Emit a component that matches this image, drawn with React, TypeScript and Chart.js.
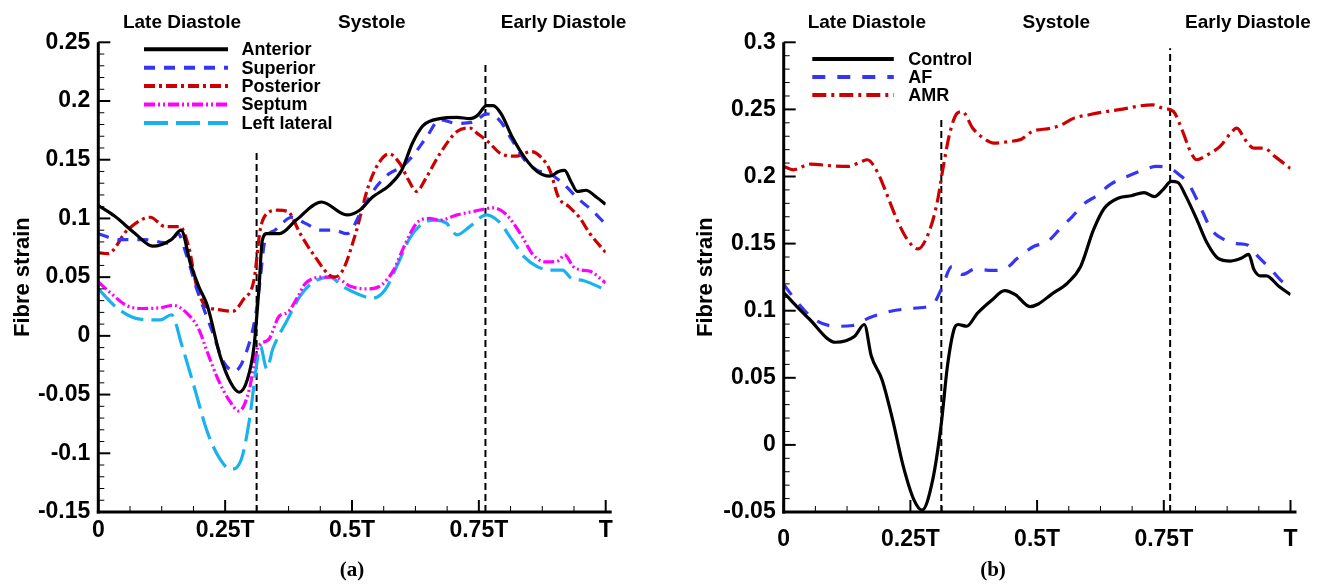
import React, { useEffect, useRef } from "react";
import { Chart, registerables } from "chart.js";

Chart.register(...registerables);

type Pt = [number, number];

// ---------- shared labels ----------
const xTickLabels = ["0", "0.25T", "0.5T", "0.75T", "T"];
const phaseLabels = ["Late Diastole", "Systole", "Early Diastole"];
const yTitle = "Fibre strain";

// ---------- panel (a): regional fibre strain (t / T, strain) ----------
const anterior: Pt[] = [
  [0, 0.111], [0.032, 0.102], [0.073, 0.087], [0.107, 0.0764], [0.144, 0.082], [0.163, 0.09],
  [0.182, 0.061], [0.198, 0.042], [0.215, 0.0256], [0.24, -0.017], [0.261, -0.04], [0.2775, -0.048],
  [0.294, -0.037], [0.307, -0.0085], [0.317, 0.043], [0.323, 0.081], [0.332, 0.087], [0.357, 0.087],
  [0.39, 0.0986], [0.44, 0.114], [0.49, 0.103], [0.515, 0.107], [0.54, 0.118], [0.573, 0.128],
  [0.598, 0.141], [0.619, 0.164], [0.64, 0.179], [0.673, 0.185], [0.707, 0.186], [0.732, 0.185],
  [0.748, 0.188], [0.765, 0.196], [0.778, 0.196], [0.794, 0.189], [0.815, 0.17], [0.84, 0.152],
  [0.865, 0.14], [0.89, 0.136], [0.907, 0.14], [0.919, 0.141], [0.932, 0.131], [0.944, 0.123],
  [0.961, 0.124], [0.982, 0.118], [1.0, 0.112],
];
const superior: Pt[] = [
  [0, 0.087], [0.04, 0.082], [0.09, 0.082], [0.14, 0.079], [0.157, 0.087], [0.173, 0.07],
  [0.194, 0.04], [0.223, 0.0057], [0.248, -0.023], [0.269, -0.03], [0.294, -0.011], [0.311, 0.02],
  [0.319, 0.048], [0.3275, 0.079], [0.348, 0.09], [0.382, 0.101], [0.407, 0.096], [0.44, 0.09],
  [0.465, 0.09], [0.49, 0.087], [0.523, 0.11], [0.548, 0.127], [0.573, 0.138], [0.598, 0.144],
  [0.623, 0.155], [0.648, 0.17], [0.673, 0.184], [0.707, 0.181], [0.74, 0.182], [0.765, 0.189],
  [0.79, 0.184], [0.815, 0.167], [0.84, 0.15], [0.865, 0.141], [0.89, 0.138], [0.915, 0.13],
  [0.948, 0.116], [0.973, 0.107], [1.0, 0.095],
];
const posterior: Pt[] = [
  [0, 0.071], [0.019, 0.07], [0.057, 0.09], [0.1025, 0.101], [0.132, 0.093], [0.161, 0.093],
  [0.178, 0.076], [0.194, 0.042], [0.211, 0.0256], [0.232, 0.0227], [0.265, 0.021], [0.286, 0.031],
  [0.307, 0.048], [0.319, 0.09], [0.332, 0.104], [0.3525, 0.107], [0.373, 0.106], [0.398, 0.087],
  [0.423, 0.07], [0.465, 0.05], [0.482, 0.056], [0.507, 0.087], [0.532, 0.127], [0.5525, 0.147],
  [0.573, 0.155], [0.594, 0.147], [0.611, 0.133], [0.6275, 0.123], [0.644, 0.133], [0.673, 0.155],
  [0.707, 0.174], [0.732, 0.177], [0.748, 0.172], [0.769, 0.165], [0.794, 0.155], [0.823, 0.153],
  [0.853, 0.157], [0.873, 0.152], [0.89, 0.141], [0.907, 0.118], [0.9275, 0.11], [0.948, 0.101],
  [0.969, 0.087], [1.0, 0.071],
];
const septum: Pt[] = [
  [0, 0.046], [0.023, 0.037], [0.057, 0.0256], [0.09, 0.0233], [0.123, 0.024], [0.148, 0.026],
  [0.173, 0.02], [0.198, 0.0057], [0.215, -0.014], [0.236, -0.037], [0.2567, -0.054], [0.2775, -0.064],
  [0.298, -0.045], [0.311, -0.014], [0.319, -0.007], [0.336, -0.003], [0.357, 0.017], [0.373, 0.02],
  [0.394, 0.034], [0.407, 0.044], [0.44, 0.05], [0.465, 0.05], [0.498, 0.042], [0.532, 0.04],
  [0.557, 0.043], [0.582, 0.056], [0.6025, 0.076], [0.6275, 0.096], [0.6525, 0.1], [0.673, 0.0985],
  [0.707, 0.103], [0.74, 0.106], [0.778, 0.109], [0.8025, 0.104], [0.832, 0.087], [0.857, 0.069],
  [0.882, 0.063], [0.907, 0.064], [0.919, 0.069], [0.936, 0.059], [0.9525, 0.056], [0.969, 0.055],
  [1.0, 0.045],
];
const leftLateral: Pt[] = [
  [0, 0.04], [0.04, 0.0227], [0.082, 0.0142], [0.123, 0.0136], [0.144, 0.018], [0.165, -0.0085],
  [0.19, -0.045], [0.215, -0.082], [0.24, -0.105], [0.261, -0.1136], [0.282, -0.105], [0.298, -0.071],
  [0.311, -0.028], [0.319, -0.0085], [0.332, -0.028], [0.344, -0.011], [0.373, 0.014], [0.398, 0.034],
  [0.423, 0.0455], [0.457, 0.05], [0.482, 0.042], [0.515, 0.035], [0.54, 0.032], [0.565, 0.039],
  [0.59, 0.061], [0.615, 0.084], [0.64, 0.096], [0.665, 0.0985], [0.686, 0.096], [0.707, 0.086],
  [0.732, 0.093], [0.765, 0.103], [0.79, 0.097], [0.815, 0.082], [0.84, 0.067], [0.865, 0.059],
  [0.89, 0.056], [0.915, 0.056], [0.932, 0.049], [0.957, 0.047], [1.0, 0.039],
];
// phase boundaries: [t, top of dashed line]
const markersA: Pt[] = [[0.312, 0.158], [0.763, 0.232]];

// ---------- panel (b): Control / AF / AMR ----------
const control: Pt[] = [
  [0, 0.1134], [0.05, 0.094], [0.1025, 0.0765], [0.14, 0.081], [0.159, 0.0897], [0.173, 0.066],
  [0.194, 0.0486], [0.215, 0.0187], [0.236, -0.016], [0.257, -0.041], [0.273, -0.0486], [0.294, -0.026],
  [0.311, 0.016], [0.323, 0.0585], [0.336, 0.086], [0.344, 0.0897], [0.361, 0.0884], [0.382, 0.098],
  [0.411, 0.108], [0.436, 0.115], [0.457, 0.112], [0.486, 0.103], [0.5025, 0.105], [0.5275, 0.112],
  [0.561, 0.121], [0.586, 0.133], [0.611, 0.16], [0.632, 0.176], [0.661, 0.184], [0.686, 0.1857],
  [0.711, 0.188], [0.7317, 0.185], [0.748, 0.19], [0.765, 0.1963], [0.7775, 0.1956], [0.794, 0.185],
  [0.815, 0.168], [0.836, 0.15], [0.857, 0.139], [0.882, 0.137], [0.9025, 0.139], [0.9175, 0.142],
  [0.9275, 0.131], [0.94, 0.126], [0.9525, 0.126], [0.9775, 0.118], [1.0, 0.112],
];
const af: Pt[] = [
  [0, 0.1196], [0.0275, 0.106], [0.061, 0.0934], [0.1025, 0.0884], [0.136, 0.089], [0.169, 0.0947],
  [0.211, 0.0996], [0.261, 0.102], [0.294, 0.1046], [0.311, 0.116], [0.332, 0.133], [0.3525, 0.127],
  [0.3775, 0.131], [0.411, 0.13], [0.436, 0.131], [0.461, 0.139], [0.494, 0.148], [0.519, 0.151],
  [0.544, 0.1604], [0.569, 0.17], [0.594, 0.18], [0.619, 0.186], [0.644, 0.194], [0.6775, 0.2],
  [0.711, 0.205], [0.736, 0.2075], [0.761, 0.2063], [0.7817, 0.201], [0.798, 0.195], [0.819, 0.18],
  [0.844, 0.1604], [0.869, 0.153], [0.894, 0.15], [0.915, 0.149], [0.9358, 0.1405], [0.961, 0.131],
  [0.986, 0.121], [1.0, 0.1195],
];
const amr: Pt[] = [
  [0, 0.2075], [0.019, 0.205], [0.0525, 0.2092], [0.094, 0.208], [0.1275, 0.2075], [0.1525, 0.211],
  [0.165, 0.2125], [0.186, 0.2025], [0.2025, 0.1877], [0.2233, 0.168], [0.244, 0.153], [0.265, 0.146],
  [0.286, 0.158], [0.3025, 0.18], [0.315, 0.2075], [0.3275, 0.232], [0.342, 0.247], [0.3525, 0.2484],
  [0.373, 0.236], [0.394, 0.2286], [0.415, 0.2249], [0.444, 0.226], [0.469, 0.2278], [0.49, 0.2335],
  [0.5275, 0.236], [0.548, 0.2385], [0.573, 0.2435], [0.6025, 0.246], [0.636, 0.2484], [0.669, 0.2502],
  [0.7025, 0.2526], [0.7275, 0.2534], [0.748, 0.2509], [0.769, 0.2484], [0.786, 0.2348], [0.8025, 0.2187],
  [0.815, 0.2125], [0.836, 0.2162], [0.861, 0.2224], [0.882, 0.2323], [0.894, 0.236], [0.9108, 0.2273],
  [0.9275, 0.2211], [0.948, 0.2211], [0.969, 0.215], [1.0, 0.206],
];
const markersB: Pt[] = [[0.311, 0.244], [0.7625, 0.2955]];

// ---------- styling ----------
const SANS = "'Liberation Sans', Arial, sans-serif";
const SERIF = "'Liberation Serif', 'Times New Roman', serif";

type Series = { label: string; data: Pt[]; color: string; dash: number[] };
type PanelSpec = {
  series: Series[];
  markers: Pt[];
  yMin: number;
  yMax: number;
  yWidth: number;
  padRight: number;
  titlePad: number;
  xTickPad: number;
  legend: { x: number; y: number; row: number; len: number; gap: number };
  phaseAt: number[];
  panelLabel: string;
  panelLabelAt: number;
};

const panelA: PanelSpec = {
  series: [
    { label: "Anterior", data: anterior, color: "#000000", dash: [] },
    { label: "Superior", data: superior, color: "#3535f5", dash: [11, 9] },
    { label: "Posterior", data: posterior, color: "#cc0000", dash: [11, 4, 3, 4] },
    { label: "Septum", data: septum, color: "#ff00ff", dash: [11, 3, 2, 3, 2, 3] },
    { label: "Left lateral", data: leftLateral, color: "#19b2ef", dash: [24, 8] },
  ],
  markers: markersA,
  yMin: -0.15,
  yMax: 0.25,
  yWidth: 98.3,
  padRight: 57.3,
  titlePad: 10,
  xTickPad: 5,
  legend: { x: 144, y: 49.3, row: 18.4, len: 84, gap: 13.5 },
  phaseAt: [0.165, 0.539, 0.917],
  panelLabel: "(a)",
  panelLabelAt: 0.5,
};

const panelB: PanelSpec = {
  series: [
    { label: "Control", data: control, color: "#000000", dash: [] },
    { label: "AF", data: af, color: "#3535f5", dash: [13, 12] },
    { label: "AMR", data: amr, color: "#cc0000", dash: [14, 5, 3, 5] },
  ],
  markers: markersB,
  yMin: -0.05,
  yMax: 0.3,
  yWidth: 120.7,
  padRight: 35.5,
  titlePad: 30,
  xTickPad: 14,
  legend: { x: 149.3, y: 59, row: 18, len: 81.5, gap: 14.5 },
  phaseAt: [0.164, 0.538, 0.916],
  panelLabel: "(b)",
  panelLabelAt: 0.413,
};

const decorPlugin = {
  id: "decor",
  afterDraw(chart: any, _args: any, o: any) {
    const { ctx, chartArea: ca } = chart;
    const xs = chart.scales.x;
    const ys = chart.scales.y;
    ctx.save();
    ctx.strokeStyle = "#000";
    ctx.setLineDash([]);
    // y ticks (minor every 0.01, major every 0.05)
    const ny = Math.round((ys.max - ys.min) / 0.01);
    for (let i = 0; i <= ny; i++) {
      const py = ys.getPixelForValue(ys.min + i * 0.01);
      const major = i % 5 === 0;
      ctx.lineWidth = major ? 2 : 1;
      ctx.beginPath();
      ctx.moveTo(ca.left, py);
      ctx.lineTo(ca.left + (major ? 12 : 6), py);
      ctx.stroke();
    }
    // x ticks (minor every T/16, major every T/4)
    for (let i = 0; i <= 16; i++) {
      const px = xs.getPixelForValue(i / 16);
      const major = i % 4 === 0;
      ctx.lineWidth = major ? 2 : 1;
      ctx.beginPath();
      ctx.moveTo(px, ca.bottom);
      ctx.lineTo(px, ca.bottom - (major ? 12 : 6));
      ctx.stroke();
    }
    // axis lines
    ctx.lineWidth = 3;
    ctx.beginPath();
    ctx.moveTo(ca.left, ys.getPixelForValue(ys.max));
    ctx.lineTo(ca.left, ca.bottom + 1.5);
    ctx.stroke();
    ctx.beginPath();
    ctx.moveTo(ca.left - 1.5, ca.bottom);
    ctx.lineTo(ca.right + 6, ca.bottom);
    ctx.stroke();

    // legend
    const lg = o.legend;
    let row = 0;
    ctx.textAlign = "left";
    ctx.textBaseline = "middle";
    ctx.font = `bold 18px ${SANS}`;
    chart.data.datasets.forEach((d: any) => {
      if (!d.label) return;
      const y = lg.y + row * lg.row;
      ctx.strokeStyle = d.borderColor;
      ctx.lineWidth = 4;
      ctx.setLineDash(d.borderDash || []);
      ctx.beginPath();
      ctx.moveTo(lg.x, y);
      ctx.lineTo(lg.x + lg.len, y);
      ctx.stroke();
      ctx.setLineDash([]);
      ctx.fillStyle = "#000";
      ctx.fillText(d.label, lg.x + lg.len + lg.gap, y + 1);
      row++;
    });

    // phase labels
    ctx.fillStyle = "#000";
    ctx.textAlign = "center";
    ctx.textBaseline = "middle";
    ctx.font = `bold 19px ${SANS}`;
    o.phases.forEach((p: string, i: number) => {
      ctx.fillText(p, xs.getPixelForValue(o.phaseAt[i]), 22.5);
    });

    // panel label
    ctx.font = `bold 21px ${SERIF}`;
    ctx.fillText(o.panelLabel, xs.getPixelForValue(o.panelLabelAt), 571);
    ctx.restore();
  },
};

function buildConfig(p: PanelSpec): any {
  const datasets: any[] = p.series.map((s) => ({
    label: s.label,
    data: s.data.map(([x, y]) => ({ x, y })),
    borderColor: s.color,
    borderWidth: 3.2,
    borderDash: s.dash,
    pointRadius: 0,
    fill: false,
    cubicInterpolationMode: "monotone",
  }));
  p.markers.forEach(([t, top]) => {
    datasets.push({
      label: "",
      data: [
        { x: t, y: p.yMin },
        { x: t, y: top },
      ],
      borderColor: "#000",
      borderWidth: 2,
      borderDash: [7, 4],
      pointRadius: 0,
      fill: false,
      tension: 0,
    });
  });

  const tickFont = { family: SANS, size: 23, weight: "bold" as const };
  return {
    type: "line",
    data: { datasets },
    plugins: [decorPlugin],
    options: {
      animation: false,
      responsive: false,
      devicePixelRatio: 1,
      events: [],
      layout: { padding: { left: 0, right: p.padRight, top: 42.3, bottom: 0 } },
      plugins: {
        legend: { display: false },
        tooltip: { enabled: false },
        decor: {
          legend: p.legend,
          phases: phaseLabels,
          phaseAt: p.phaseAt,
          panelLabel: p.panelLabel,
          panelLabelAt: p.panelLabelAt,
        },
      },
      scales: {
        x: {
          type: "linear",
          min: 0,
          max: 1,
          grid: { display: false, drawTicks: false },
          border: { display: false },
          ticks: {
            stepSize: 0.25,
            autoSkip: false,
            maxRotation: 0,
            padding: p.xTickPad,
            color: "#000",
            font: tickFont,
            callback: (v: number) => xTickLabels[Math.round(v * 4)] ?? "",
          },
          afterFit: (s: any) => {
            s.height = 72;
          },
        },
        y: {
          type: "linear",
          min: p.yMin,
          max: p.yMax,
          grid: { display: false, drawTicks: false },
          border: { display: false },
          ticks: {
            stepSize: 0.05,
            padding: 8,
            color: "#000",
            font: tickFont,
            callback: (v: number) => String(Number(v.toFixed(2))),
          },
          title: {
            display: true,
            text: yTitle,
            color: "#000",
            font: { family: SANS, size: 22, weight: "bold" },
            padding: { top: p.titlePad, bottom: 0 },
          },
          afterFit: (s: any) => {
            s.width = p.yWidth;
          },
        },
      },
    },
  };
}

function Panel({ spec, left }: { spec: PanelSpec; left: number }) {
  const ref = useRef<HTMLCanvasElement>(null);
  useEffect(() => {
    const chart = new Chart(ref.current as HTMLCanvasElement, buildConfig(spec));
    return () => chart.destroy();
  }, [spec]);
  return (
    <div style={{ position: "absolute", left, top: 0, width: 663, height: 584 }}>
      <canvas ref={ref} width={663} height={584} style={{ width: 663, height: 584, display: "block" }} />
    </div>
  );
}

export default function App() {
  return (
    <div
      style={{
        position: "fixed",
        left: 0,
        top: 0,
        width: 1326,
        height: 584,
        background: "#fff",
        overflow: "hidden",
      }}
    >
      <Panel spec={panelA} left={0} />
      <Panel spec={panelB} left={663} />
    </div>
  );
}
